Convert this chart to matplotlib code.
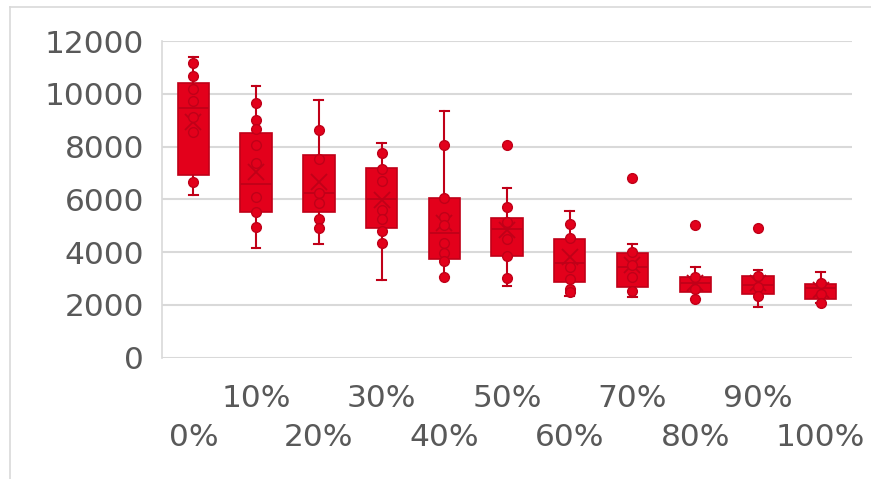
import matplotlib
matplotlib.use('Agg')
import matplotlib.pyplot as plt
from matplotlib.lines import Line2D

plt.rcParams['font.family'] = ['DejaVu Sans']

categories = ['0%', '10%', '20%', '30%', '40%', '50%', '60%', '70%', '80%', '90%', '100%']
q1 = [6920, 5530, 5510, 4930, 3740, 3870, 2860, 2680, 2490, 2430, 2210]
median = [9450, 6570, 6250, 6000, 4720, 4870, 3580, 3440, 2820, 2760, 2630]
q3 = [10390, 8510, 7670, 7180, 6060, 5280, 4490, 3970, 3050, 3090, 2810]
mean = [8940, 7050, 6670, 5980, 5090, 4840, 3830, 3510, 2820, 2820, 2570]
whisker_low = [6150, 4150, 4320, 2930, 3070, 2720, 2350, 2310, 2210, 1920, 2080]
whisker_high = [11410, 10290, 9760, 8130, 9360, 6440, 5560, 4310, 3440, 3320, 3260]
inner_points = [
    [11160, 10680, 10170, 9730, 9110, 8550, 6670],
    [9640, 9020, 8660, 8050, 7390, 6100, 5530, 4950],
    [8620, 7530, 6230, 5870, 5260, 4930],
    [7770, 7140, 6700, 5600, 5260, 4800, 4340],
    [8060, 6040, 5340, 5030, 4340, 3980, 3670, 3070],
    [5700, 5130, 4500, 3870, 3020],
    [5080, 4540, 3450, 2970, 2590, 2500],
    [4020, 3510, 3070, 2530],
    [3050, 2590, 2210],
    [3100, 2690, 2340],
    [2820, 2400, 2080],
]
outliers = [[], [], [], [], [], [8060], [], [6820], [5020], [4900], []]

red = '#e3001b'
dark = '#c00018'
grid = '#d9d9d9'
text_col = '#595959'

fig = plt.figure(figsize=(8.71, 4.79), dpi=100)
ax = fig.add_axes([162/871, 1-357.7/479, (852-162)/871, (357.7-41)/479])

stats = []
for i in range(len(categories)):
    stats.append(dict(med=median[i], q1=q1[i], q3=q3[i], whislo=whisker_low[i],
                      whishi=whisker_high[i], mean=mean[i], fliers=[]))

pos = list(range(len(categories)))
ax.bxp(stats, positions=pos, widths=0.5, patch_artist=True, showmeans=True,
       boxprops=dict(facecolor=red, edgecolor=dark, linewidth=1.2),
       medianprops=dict(color=dark, linewidth=1.3),
       whiskerprops=dict(color=dark, linewidth=1.5),
       capprops=dict(color=dark, linewidth=1.5),
       meanprops=dict(marker='x', markeredgecolor=dark, markersize=11, markeredgewidth=1.3),
       capwidths=0.14, zorder=3)

for i in pos:
    pts = inner_points[i] + outliers[i]
    ax.plot([i] * len(pts), pts, 'o', markersize=7, markerfacecolor=red,
            markeredgecolor=dark, markeredgewidth=1.0, zorder=4)

ax.set_xlim(-0.5, len(categories) - 0.5)
ax.set_ylim(0, 12000)
ax.set_yticks(range(0, 12001, 2000))
ax.yaxis.grid(True, color=grid, linewidth=1.5)
ax.set_axisbelow(True)
for s in ['top', 'right', 'bottom']:
    ax.spines[s].set_visible(False)
ax.spines['left'].set_color(grid)
ax.spines['left'].set_linewidth(1.2)

ax.set_xticks(pos)
ax.set_xticklabels(categories)
ax.tick_params(axis='both', length=0, labelsize=22.5, labelcolor=text_col)
ax.tick_params(axis='y', pad=13)
for i, t in enumerate(ax.xaxis.get_major_ticks()):
    t.set_pad(19 if i % 2 == 1 else 47)

fig.add_artist(Line2D([10/871, 10/871], [0, 1-7/479], color=grid, linewidth=1.2))
fig.add_artist(Line2D([10/871, 1], [1-7/479, 1-7/479], color=grid, linewidth=1.2))

fig.savefig('out.png', dpi=100)
